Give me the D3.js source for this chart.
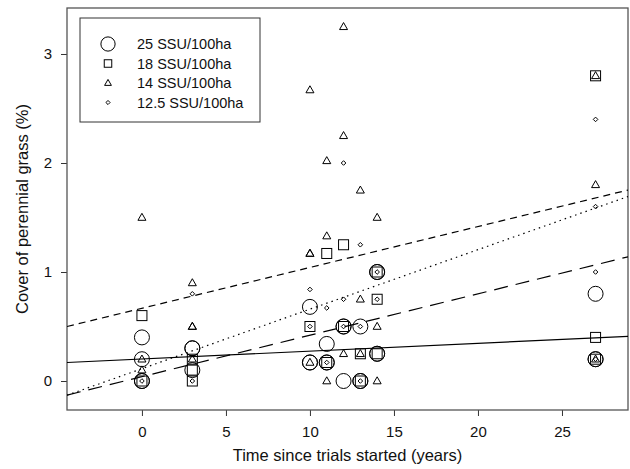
<!DOCTYPE html>
<html><head><meta charset="utf-8">
<script src="https://cdn.jsdelivr.net/npm/d3@7"></script>
<style>body{margin:0;background:#fff}svg{display:block}text{font-family:Arial,"Liberation Sans",sans-serif}</style>
</head><body><svg id="c" width="630" height="469"></svg>
<script>
const seriesNames = ["25 SSU/100ha","18 SSU/100ha","14 SSU/100ha","12.5 SSU/100ha"];
const xTicks = [0,5,10,15,20,25];
const yTicks = [0,1,2,3];
// points per series: [x, y]
const circlePts = [[0,0.4],[0,0.2],[0,0],[0,0],[3,0.3],[3,0.3],[3,0.1],[10,0.68],[10,0.17],[10,0.17],[11,0.34],[11,0.17],[11,0.17],[12,0.5],[12,0.5],[12,0],[13,0.5],[13,0],[13,0],[14,1.0],[14,1.0],[14,0.25],[14,0.25],[27,0.8],[27,0.2],[27,0.2]];
const squarePts = [[0,0.6],[0,0],[3,0.2],[3,0.1],[3,0],[10,0.5],[11,1.17],[11,0.17],[12,1.25],[12,0.5],[13,0.25],[13,0],[14,1.0],[14,0.75],[14,0.25],[27,2.8],[27,0.4],[27,0.2]];
const trianglePts = [[0,1.5],[0,0.2],[0,0.1],[3,0.9],[3,0.5],[3,0.5],[3,0.2],[10,2.67],[10,1.17],[10,1.17],[10,0.17],[11,2.02],[11,1.33],[11,0],[12,3.25],[12,2.25],[12,0.25],[13,1.75],[13,0.75],[13,0.25],[14,1.5],[14,0.5],[14,0],[27,2.8],[27,1.8],[27,0.2]];
const diamondPts = [[0,0],[3,0.8],[3,0],[10,0.84],[10,0.5],[11,0.67],[11,0.17],[12,2.0],[12,0.75],[12,0.5],[13,1.25],[13,0.5],[13,0],[14,1.0],[14,0.75],[27,2.4],[27,1.6],[27,1.0],[27,0.2]];
// regression lines: intercept, slope
const lineIntercepts = [0.202, 0.04, 0.667, 0.113];
const lineSlopes = [0.0072, 0.038, 0.0375, 0.0546];
const lineDash = ["none","14,8","7,5","1.5,4"];

const svg = d3.select("#c");
const L=67, R=628, T=8, B=410;
const x = d3.scaleLinear().domain([-4.46, 28.93]).range([L, R]);
const y = d3.scaleLinear().domain([-0.266, 3.422]).range([B, T]);

svg.append("defs").append("clipPath").attr("id","clip").append("rect").attr("x",L).attr("y",T).attr("width",R-L).attr("height",B-T);

const ax = d3.axisBottom(x).tickValues(xTicks).tickFormat(d3.format("d")).tickSize(6).tickSizeOuter(0);
const gx = svg.append("g").attr("transform",`translate(0,${B})`).call(ax);
gx.select(".domain").remove();
gx.selectAll("line").attr("stroke","#333");
gx.selectAll("text").attr("font-size",15).attr("dy","1.2em").attr("fill","#111");
const ay = d3.axisLeft(y).tickValues(yTicks).tickFormat(d3.format("d")).tickSize(6).tickSizeOuter(0);
const gy = svg.append("g").attr("transform",`translate(${L},0)`).call(ay);
gy.select(".domain").remove();
gy.selectAll("line").attr("stroke","#333");
gy.selectAll("text").attr("font-size",15).attr("dx","-0.4em").attr("fill","#111");

svg.append("rect").attr("x",L).attr("y",T).attr("width",R-L).attr("height",B-T).attr("fill","none").attr("stroke","#555").attr("stroke-width",1.3);

const lg = svg.append("g").attr("clip-path","url(#clip)");
lineIntercepts.forEach((a,i)=>{
  const [x0,x1]=x.domain();
  lg.append("line").attr("x1",x(x0)).attr("y1",y(a+lineSlopes[i]*x0)).attr("x2",x(x1)).attr("y2",y(a+lineSlopes[i]*x1))
    .attr("stroke","#000").attr("stroke-width",1.2).attr("stroke-dasharray",lineDash[i]);
});

const symCircle = (g,cx,cy,s)=>g.append("circle").attr("cx",cx).attr("cy",cy).attr("r",7.5*s);
const symSquare = (g,cx,cy,s)=>g.append("rect").attr("x",cx-5*s).attr("y",cy-5*s).attr("width",10*s).attr("height",10*s);
const symTri = (g,cx,cy,s)=>g.append("path").attr("d",`M${cx},${cy-4.2*s}L${cx+4*s},${cy+2.8*s}L${cx-4*s},${cy+2.8*s}Z`);
const symDia = (g,cx,cy,s)=>g.append("path").attr("d",`M${cx},${cy-2.3*s}L${cx+2.3*s},${cy}L${cx},${cy+2.3*s}L${cx-2.3*s},${cy}Z`);
const syms=[symCircle,symSquare,symTri,symDia];
const sets=[circlePts,squarePts,trianglePts,diamondPts];

const pg = svg.append("g").attr("fill","none").attr("stroke","#000").attr("stroke-width",1);
sets.forEach((pts,i)=>pts.forEach(d=>syms[i](pg,x(d[0]),y(d[1]),1)));

// legend
const leg = svg.append("g");
leg.append("rect").attr("x",80).attr("y",18).attr("width",180).attr("height",104).attr("fill","#fff").attr("stroke","#333").attr("stroke-width",1);
const lsym = leg.append("g").attr("fill","none").attr("stroke","#000").attr("stroke-width",1);
seriesNames.forEach((n,i)=>{
  const cy = 44 + i*19.5;
  syms[i](lsym,108,cy,[0.95,0.75,0.85,0.9][i]);
  leg.append("text").attr("x",137).attr("y",cy).attr("dy","0.35em").attr("font-size",14.5).attr("fill","#111").text(n);
});

svg.append("text").attr("x",(L+R)/2).attr("y",461).attr("text-anchor","middle").attr("font-size",16.5).attr("fill","#111").text("Time since trials started (years)");
svg.append("text").attr("transform",`translate(28,${(T+B)/2}) rotate(-90)`).attr("text-anchor","middle").attr("font-size",16.5).attr("fill","#111").text("Cover of perennial grass (%)");
</script></body></html>
